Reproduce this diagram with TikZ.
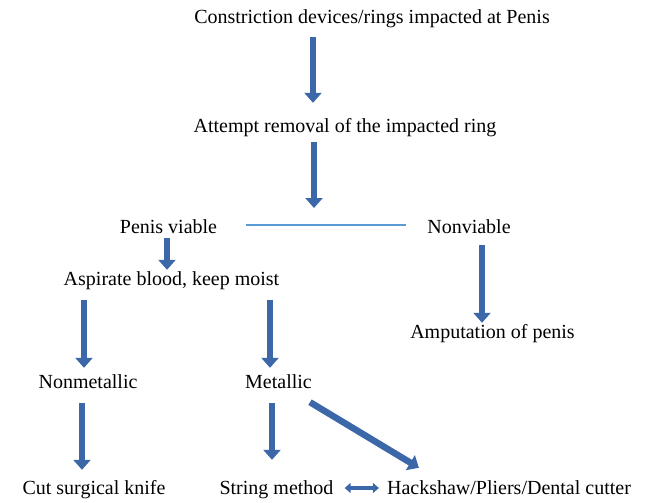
\documentclass[tikz,border=0pt]{standalone}
\usepackage{fontspec}
\setmainfont{Liberation Serif}
\usetikzlibrary{arrows.meta}

\definecolor{arrowblue}{HTML}{3C67A8}
\definecolor{lineblue}{HTML}{5B9BD5}

\tikzset{
  label/.style={inner sep=0pt, text height=14pt, text depth=4pt, font=\fontsize{20}{24}\selectfont},
  blockarrow/.style={draw=arrowblue, line width=6.5pt, -{Triangle[length=10pt,width=17pt]}},
  twoway/.style={draw=arrowblue, line width=4pt, {Triangle[length=6pt,width=10pt]}-{Triangle[length=6pt,width=10pt]}}
}

\begin{document}
\begin{tikzpicture}[x=1pt, y=-1pt]

 \useasboundingbox (0,0) rectangle (645,503);

	%labels
    \foreach \name/\x/\y/\txt in {
        top/372/19/{Constriction devices/rings impacted at Penis},
        attempt/345/127/{Attempt removal of the impacted ring},
        viable/168.5/228/{Penis viable},
        nonviable/469/228/{Nonviable},
        aspirate/171.5/280/{Aspirate blood, keep moist},
        amput/492.5/333/{Amputation of penis},
        nonmetal/88/383/{Nonmetallic},
        metal/278.5/383/{Metallic},
        knife/94/489/{Cut surgical knife},
        string/276.5/489/{String method},
        hack/509/489/{Hackshaw/Pliers/Dental cutter}}{
        \node[label] (\name) at (\x,\y) {\txt};
    }

	%columns of the arrows
 \coordinate (fork) at (314,225);
 \coordinate (c1) at (313,0);
 \coordinate (c2) at (167,0);
 \coordinate (c3) at (482,0);
 \coordinate (c4) at (84,0);
 \coordinate (c5) at (270,0);
 \coordinate (c6) at (82,0);
 \coordinate (c7) at (272,0);

	%split line
 \draw[lineblue, line width=1.3pt, shorten <=29pt, shorten >=21pt]
     ([yshift=3pt]viable.east) -- ([yshift=3pt]nonviable.west);

	%arrows
 \draw[blockarrow, shorten <=9pt, shorten >=15pt] (top.south -| c1) -- (attempt.north -| c1);
 \draw[blockarrow, shorten <=6pt, shorten >=17pt] (attempt.south -| fork) -- (fork);
 \draw[blockarrow, shorten <=1pt, shorten >=1pt] (viable.south -| c2) -- (aspirate.north -| c2);
 \draw[blockarrow, shorten <=8pt, shorten >=1pt] (nonviable.south -| c3) -- (amput.north -| c3);
 \draw[blockarrow, shorten <=11pt, shorten >=6pt] (aspirate.south -| c4) -- (nonmetal.north -| c4);
 \draw[blockarrow, shorten <=11pt, shorten >=6pt] (aspirate.south -| c5) -- (metal.north -| c5);
 \draw[blockarrow, shorten <=11pt, shorten >=10pt] (nonmetal.south -| c6) -- (knife.north -| c6);
 \draw[blockarrow, shorten <=11pt, shorten >=20pt] (metal.south -| c7) -- (string.north -| c7);
 \draw[blockarrow] ([shift={(-2pt,-10pt)}]metal.south east) -- ([shift={(32pt,12pt)}]hack.north west);
 \draw[twoway, shorten <=11pt, shorten >=8pt] ([yshift=1pt]string.east) -- ([yshift=1pt]hack.west);

\end{tikzpicture}
\end{document}
